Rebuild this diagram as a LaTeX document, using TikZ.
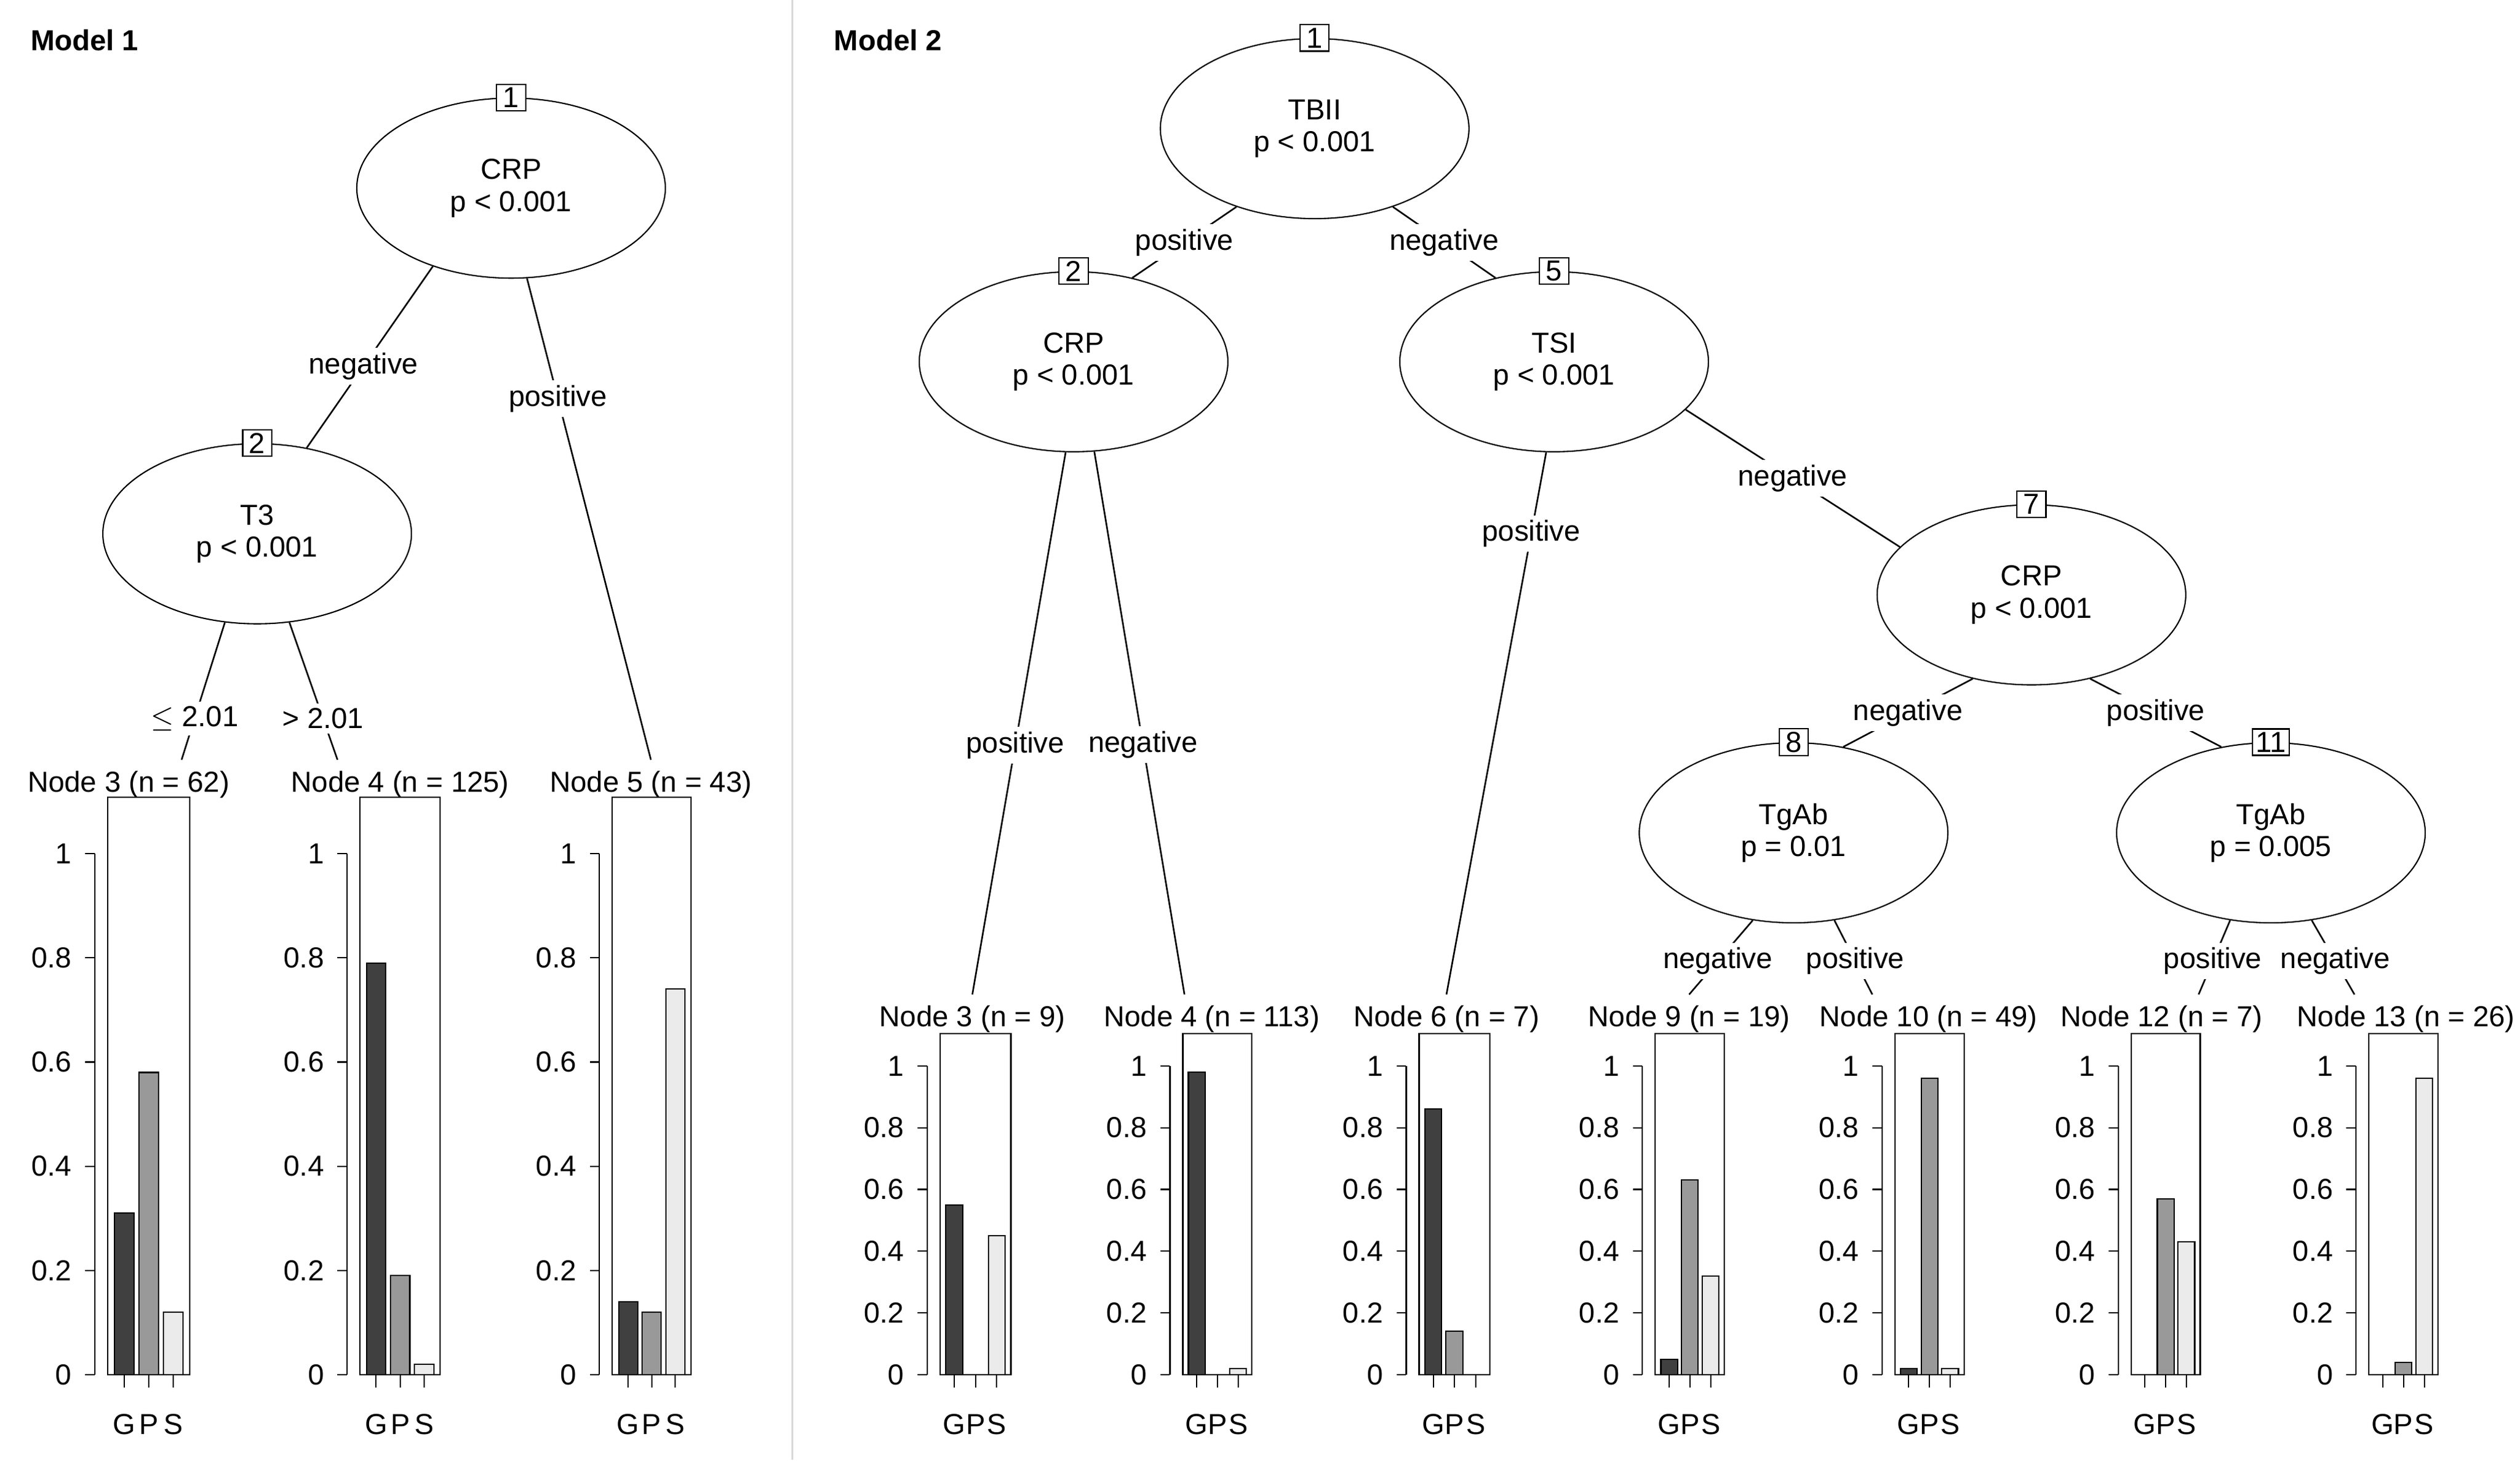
\documentclass[tikz,border=0pt]{standalone}
\usepackage{fontspec}
\setmainfont{Liberation Sans}
\begin{document}
\begin{tikzpicture}[x=0.5pt,y=-0.5pt,font=\fontsize{9}{10}\selectfont,
  split/.style={ellipse,draw,minimum width=96,minimum height=56,align=center,inner sep=0pt},
  idbox/.style={draw,fill=white,inner sep=1pt,minimum width=9pt},
  elab/.style={fill=white,inner sep=1.5pt},
  edge/.style={draw,line width=0.5pt},
  barG/.style={draw,fill=black!75},barP/.style={draw,fill=black!40},barS/.style={draw,fill=black!8}]
\usetikzlibrary{shapes.geometric}
\useasboundingbox (0,0) rectangle (1568,908.7);
\draw[black!15] (493,0) -- (493,908);
\node[anchor=west,font=\bfseries\fontsize{9}{10}\selectfont] (m1) at (12,25) {Model 1};
\node[anchor=west,font=\bfseries\fontsize{9}{10}\selectfont] (m2) at (512,25) {Model 2};
% panel macro: #1 name #2 left #3 width #4 top #5 zero-y #6 one-y #7 G #8 P #9 S
\newcommand\mypanel[9]{%
 \pgfmathsetmacro\pr{#2+#3}\pgfmathsetmacro\ax{#2-8}%
 \draw (#2,#4) rectangle (\pr,#5);
 \draw (\ax,#5) -- (\ax,#6);
 \foreach \v/\t in {0/0,0.2/0.2,0.4/0.4,0.6/0.6,0.8/0.8,1/1}{%
   \pgfmathsetmacro\yy{#5+(#6-#5)*\v}
   \draw (\ax,\yy) -- ++(-6,0);
   \node[anchor=east,inner sep=0pt] at (\ax-14,\yy) {\t};}
 \foreach \f/\v/\s/\l in {0.2/#7/barG/G,0.5/#8/barP/P,0.8/#9/barS/S}{%
   \pgfmathsetmacro\cx{#2+#3*\f}\pgfmathsetmacro\bw{#3*0.12}
   \pgfmathsetmacro\yy{#5+(#6-#5)*\v}
   \ifdim\v pt>0pt \draw[\s] (\cx-\bw,#5) rectangle (\cx+\bw,\yy);\fi
   \draw (\cx,#5) -- ++(0,8);
   \node[inner sep=0pt] at (\cx,#5+31) {\l};}
}
% ---------- Model 1
\node[split] (a1) at (318,117) {CRP\\p < 0.001};
\node[idbox] at (a1.north) {1};
\node[split] (a2) at (160,332) {T3\\p < 0.001};
\node[idbox] at (a2.north) {2};
\node (t3) at (80,488) {Node 3 (n = 62)};
\node (t4) at (249,488) {Node 4 (n = 125)};
\node (t5) at (405,488) {Node 5 (n = 43)};
\draw[edge] (a1.225) -- (a2.60) node[elab,pos=0.55] {negative};
\draw[edge] (a1.280) -- (t5.north) node[elab,pos=0.25] {positive};
\draw[edge] (a2.250) -- (t3.north -| 113,0) node[elab,pos=0.7] {$\leq$ 2.01};
\draw[edge] (a2.290) -- (t4.north -| 210,0) node[elab,pos=0.7] {> 2.01};
\mypanel{p3}{67}{51}{496}{855}{531}{0.31}{0.58}{0.12}
\mypanel{p4}{224}{50}{496}{855}{531}{0.79}{0.19}{0.02}
\mypanel{p5}{381}{49}{496}{855}{531}{0.14}{0.12}{0.74}
% ---------- Model 2
\node[split] (b1) at (818,80) {TBII\\p < 0.001};
\node[idbox] at (b1.north) {1};
\node[split] (b2) at (668,225) {CRP\\p < 0.001};
\node[idbox] at (b2.north) {2};
\node[split] (b5) at (967,225) {TSI\\p < 0.001};
\node[idbox] at (b5.north) {5};
\node[split] (b7) at (1264,370) {CRP\\p < 0.001};
\node[idbox] at (b7.north) {7};
\node[split] (b8) at (1116,518) {TgAb\\p = 0.01};
\node[idbox] at (b8.north) {8};
\node[split] (b11) at (1413,518) {TgAb\\p = 0.005};
\node[idbox] at (b11.north) {11};
\node (u3) at (605,634) {Node 3 (n = 9)};
\node (u4) at (754,634) {Node 4 (n = 113)};
\node (u6) at (900,634) {Node 6 (n = 7)};
\node (u9) at (1051,634) {Node 9 (n = 19)};
\node (u10) at (1200,634) {Node 10 (n = 49)};
\node (u12) at (1345,634) {Node 12 (n = 7)};
\node (u13) at (1497,634) {Node 13 (n = 26)};
\draw[edge] (b1.225) -- (b2.55) node[elab,midway] {positive};
\draw[edge] (b1.315) -- (b5.125) node[elab,midway] {negative};
\draw[edge] (b2.265) -- (u3.north) node[elab,pos=0.54] {positive};
\draw[edge] (b2.283) -- (u4.north -| 737,0) node[elab,pos=0.54] {negative};
\draw[edge] (b5.265) -- (u6.north) node[elab,pos=0.15] {positive};
\draw[edge] (b5.340) -- (b7.160) node[elab,midway] {negative};
\draw[edge] (b7.235) -- (b8.60) node[elab,midway] {negative};
\draw[edge] (b7.305) -- (b11.120) node[elab,midway] {positive};
\draw[edge] (b8.245) -- (u9.north) node[elab,pos=0.55] {negative};
\draw[edge] (b8.295) -- (u10.north -| 1165,0) node[elab,pos=0.55] {positive};
\draw[edge] (b11.245) -- (u12.north -| 1368,0) node[elab,pos=0.55] {positive};
\draw[edge] (b11.295) -- (u13.north -| 1465,0) node[elab,pos=0.55] {negative};
\mypanel{q3}{585}{44}{643}{855}{663}{0.55}{0}{0.45}
\mypanel{q4}{736}{43}{643}{855}{663}{0.98}{0}{0.02}
\mypanel{q6}{883}{44}{643}{855}{663}{0.86}{0.14}{0}
\mypanel{q9}{1030}{43}{643}{855}{663}{0.05}{0.63}{0.32}
\mypanel{q10}{1179}{43}{643}{855}{663}{0.02}{0.96}{0.02}
\mypanel{q12}{1326}{43}{643}{855}{663}{0}{0.57}{0.43}
\mypanel{q13}{1474}{43}{643}{855}{663}{0}{0.04}{0.96}
\end{tikzpicture}
\end{document}
